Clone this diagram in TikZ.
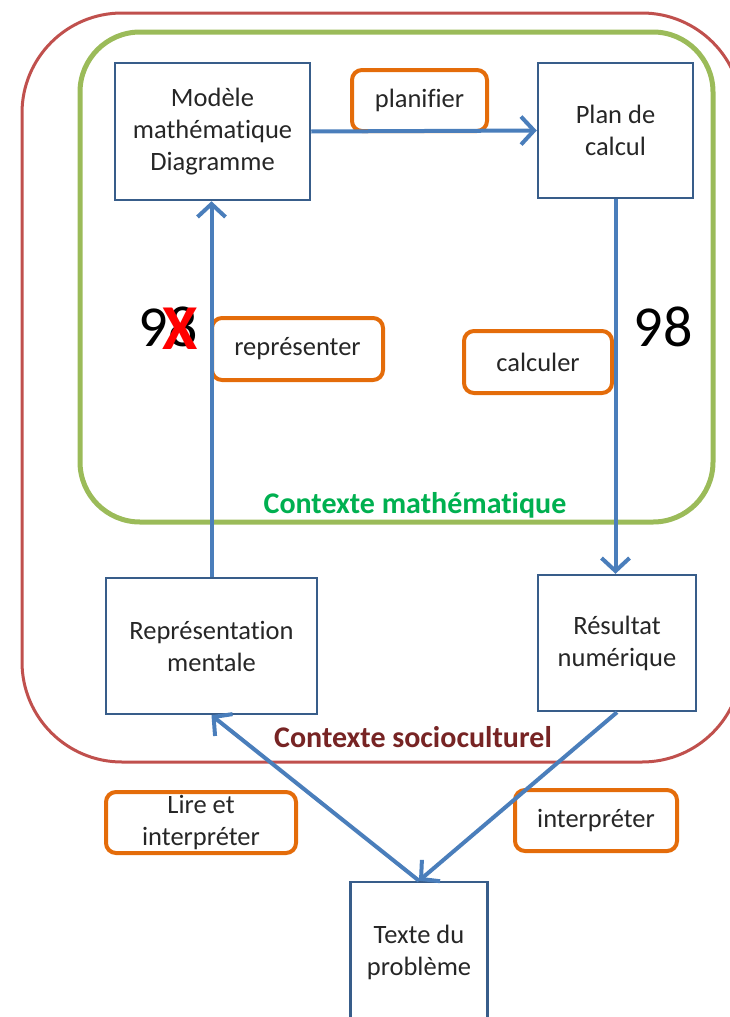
\documentclass[tikz,border=0pt]{standalone}
\usepackage{fontspec}
\setmainfont{Carlito}[Ligatures={NoCommon}]
\usetikzlibrary{arrows.meta}
\definecolor{boxblue}{HTML}{385D8A}
\definecolor{arrblue}{HTML}{4A7EBB}
\definecolor{orng}{HTML}{E46C0A}
\definecolor{grn}{HTML}{9BBB59}
\definecolor{redl}{HTML}{C0504D}
\definecolor{txtc}{HTML}{262626}
\definecolor{grntxt}{HTML}{00B050}
\definecolor{redtxt}{HTML}{772424}
\tikzset{
  bbox/.style={draw=boxblue, line width=2.5pt, inner sep=0pt, align=center, text=txtc, font=\fontsize{26.5}{32}\selectfont},
  obox/.style={draw=orng, line width=4pt, rounded corners=10pt, inner sep=0pt, align=center, text=txtc, font=\fontsize{26.5}{32}\selectfont},
  arr/.style={draw=arrblue, line width=4pt, -{Straight Barb[length=13pt,width=28pt,line width=4pt]}},
  ctx/.style={font=\bfseries\fontsize{30}{32}\selectfont},
  big/.style={font=\fontsize{58}{60}\selectfont, text=black}
}
\begin{document}
\begin{tikzpicture}[x=1pt,y=-1pt]
\useasboundingbox (0,0) rectangle (730,1017);
\clip (0,0) rectangle (730,1017);
\draw[redl, line width=3pt, rounded corners=100pt] (22,13) rectangle (742,762);
\draw[grn, line width=5pt, rounded corners=60pt] (80,32) rectangle (713,522);

\node[bbox, minimum width=195pt, minimum height=137pt] (modele) at (212.5,131.5) {Modèle\\mathématique\\Diagramme};
\node[bbox, minimum width=155pt, minimum height=135pt] (plan) at (615.5,130.5) {Plan de\\calcul};
\node[bbox, minimum width=211pt, minimum height=136pt] (repr) at (211.5,646) {Représentation\\mentale};
\node[bbox, minimum width=158pt, minimum height=136pt] (res) at (617,643) {Résultat\\numérique};
\node[bbox, minimum width=137pt, minimum height=140pt] (texte) at (419,952) {Texte du\\problème};

\node[obox, minimum width=135pt, minimum height=61pt] (planif) at (419.5,100.5) {planifier};
\node[obox, minimum width=171pt, minimum height=62pt] (repres) at (297.5,349) {représenter};
\node[obox, minimum width=148pt, minimum height=62pt] (calc) at (538,362) {calculer};
\node[obox, minimum width=190pt, minimum height=61pt] (lire) at (201,822.5) {Lire et\\interpréter};
\node[obox, minimum width=162pt, minimum height=61pt] (interp) at (596,820.5) {interpréter};

\draw[arr] (modele.east) -- (plan.west);
\draw[arr] (plan.south) -- (plan.south |- res.north);
\draw[arr] (repr.north) -- (repr.north |- modele.south);
\draw[arr] (texte.north) -- (repr.south);
\draw[arr] (res.south) -- (texte.north);

\node[ctx, text=grntxt] (cmath) at (415,505) {Contexte mathématique};
\node[ctx, text=redtxt] (csoc) at (413,737) {Contexte socioculturel};

\node[big] (n98r) at (663,327) {98};
\node[big] (n98l) at (168,327) {98};
\node[font=\bfseries\fontsize{64}{66}\selectfont, text=red] (xmark) at (180,329) {X};
\end{tikzpicture}
\end{document}
